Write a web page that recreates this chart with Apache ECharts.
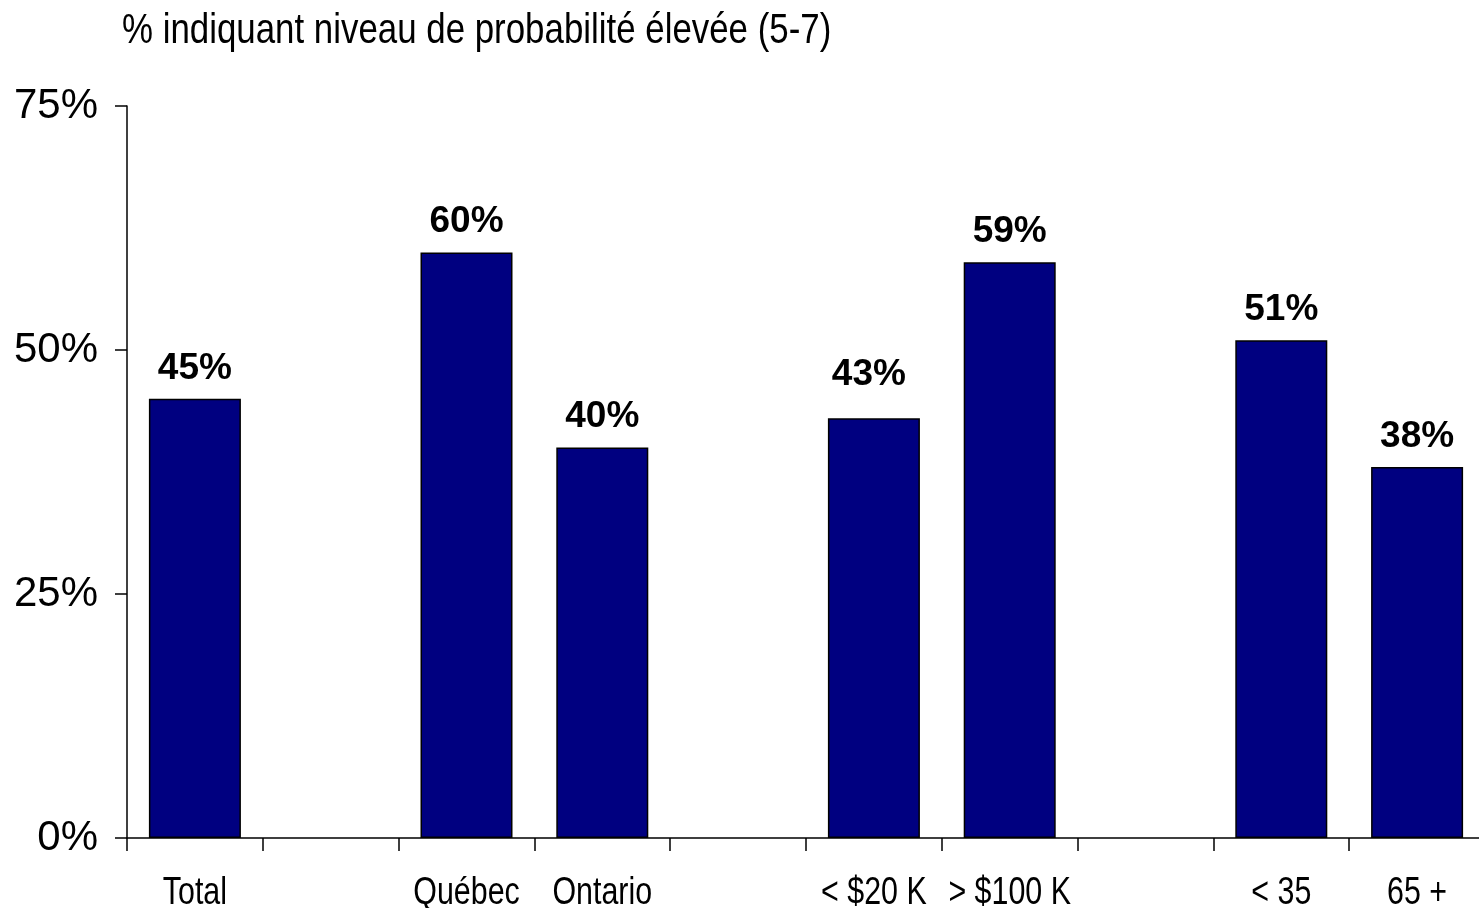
<!DOCTYPE html>
<html><head><meta charset="utf-8">
<script src="https://cdn.jsdelivr.net/npm/echarts@6/dist/echarts.min.js"></script>
<style>html,body{margin:0;padding:0;background:#fff;overflow:hidden}#c{width:1485px;height:908px}</style>
</head><body><div id="c"></div>
<script>
const categories = ['Total', '', 'Québec', 'Ontario', '', '< $20 K', '> $100 K', '', '< 35', '65 +'];
const values = [45, null, 60, 40, null, 43, 59, null, 51, 38];
const yTicks = [0, 25, 50, 75];
const titleText = '% indiquant niveau de probabilité élevée (5-7)';
const sans = '"Liberation Sans", Arial, sans-serif';
const chart = echarts.init(document.getElementById('c'));
// the "43%" label sits a little higher and to the left in the original
const seriesData = values.map((v, i) => i === 5 ? {value: v, label: {offset: [-5, -13]}} : v);
chart.setOption({
  animation: false,
  grid: {left: 127, top: 106, right: 0, height: 732, containLabel: false},
  xAxis: {type: 'category', data: categories,
    axisLine: {lineStyle: {color: '#000', width: 1.5}},
    axisTick: {show: true, length: 13, lineStyle: {color: '#000', width: 1.5}},
    axisLabel: {show: false}},
  yAxis: {type: 'value', min: yTicks[0], max: yTicks[yTicks.length-1], interval: 25,
    axisLine: {show: true, lineStyle: {color: '#000', width: 1.5}},
    axisTick: {show: true, length: 12, lineStyle: {color: '#000', width: 1.5}},
    splitLine: {show: false},
    axisLabel: {formatter: '{value}%', margin: 29, color: '#000', fontFamily: sans, fontSize: 42}},
  series: [{type: 'bar', data: seriesData, barWidth: 92,
    itemStyle: {color: '#000080', borderColor: '#000', borderWidth: 1.5},
    label: {show: true, position: 'top', distance: 12, formatter: '{c}%', color: '#000',
      fontFamily: sans, fontWeight: 'bold', fontSize: 37}}]
});
// Narrow (Arial Narrow-like) text: real text, horizontally condensed
const graphics = [{type: 'text', x: 122, y: 10, scaleX: 0.83,
  style: {text: titleText, x: 0, y: 0, textAlign: 'left', textVerticalAlign: 'top',
    font: 'normal 42px ' + sans, fill: '#000'}}];
categories.forEach((c, i) => {
  if (!c) return;
  const px = chart.convertToPixel({xAxisIndex: 0}, i);
  graphics.push({type: 'text', x: px, y: 894, scaleX: 0.8,
    style: {text: c, x: 0, y: 0, textAlign: 'center', textVerticalAlign: 'middle',
      font: 'normal 38px ' + sans, fill: '#000'}});
});
chart.setOption({graphic: graphics});
</script></body></html>
